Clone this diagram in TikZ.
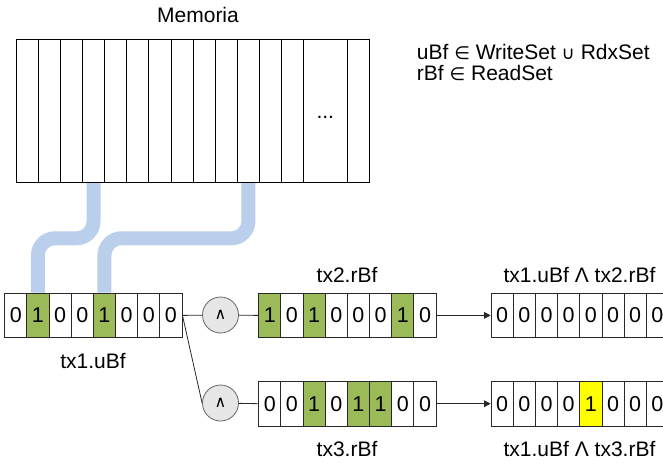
\documentclass[tikz,border=0pt]{standalone}
\usepackage{fontspec}
\setmainfont{Liberation Sans}
\newfontfamily\symfont{DejaVu Sans}
\usetikzlibrary{arrows.meta}
\definecolor{cellgreen}{RGB}{155,187,89}
\definecolor{cellyellow}{RGB}{255,255,0}
\definecolor{linkblue}{RGB}{185,207,236}
\definecolor{opfill}{RGB}{230,230,230}
\definecolor{opedge}{RGB}{102,102,102}
\definecolor{edge}{RGB}{40,40,40}
\pgfdeclarelayer{bg}
\pgfsetlayers{bg,main}

% one row of eight bit cells: name, left x, top y, list of value/style
\newcommand\bitrow[4]{%
  \foreach \v/\s [count=\i from 0] in {#4}
    \node[\s] (#1-\i) at ({#2+22.17*\i},#3) {\v};%
}
\newcommand\setsym[1]{{\symfont\fontsize{18}{20}\selectfont #1}}

\begin{document}
\begin{tikzpicture}[x=1pt,y=-1pt,
  txt/.style={font=\fontsize{21}{25}\selectfont, inner sep=0pt},
  bit/.style={draw=edge, line width=0.8pt, minimum width=22.17pt,
    minimum height=44.6pt, inner sep=0pt, anchor=north west,
    font=\fontsize{21.5}{25}\selectfont},
  one/.style={bit, fill=cellgreen},
  hit/.style={bit, fill=cellyellow},
  memcell/.style={draw=black, line width=0.8pt, minimum height=143.3pt,
    inner sep=0pt, anchor=north west, minimum width=#1},
  memcell/.default=22.12pt,
  op/.style={circle, draw=opedge, fill=opfill, line width=0.8pt,
    minimum size=36pt, inner sep=0pt,
    font=\symfont\fontsize{16}{18}\selectfont},
  wire/.style={draw=edge, line width=0.8pt},
  arrowwire/.style={wire, -{Triangle[length=6.5pt,width=6.5pt]}},
  link/.style={draw=linkblue, line width=14pt, rounded corners=17pt}
]
\clip (0,0) rectangle (663,465);

% memory block
\node[txt, anchor=base] (memtitle) at (198,22.3) {Memoria};
\foreach \i in {0,...,12}
  \node[memcell] (mem-\i) at ({15.7+22.12*\i},38.7) {};
\node[memcell=44pt] (mem-13) at (303.3,38.7) {};
\node[memcell=21.7pt] (mem-14) at (347.3,38.7) {};
\node[txt, anchor=base] (dots) at (325.3,119) {...};

% set membership notes
\node[txt, anchor=base west] (note1) at (416.7,60)
  {uBf \setsym{∈} WriteSet \setsym{∪} RdxSet};
\node[txt, anchor=base west] (note2) at (416.7,80.5)
  {rBf \setsym{∈} ReadSet};

% bit vectors
\bitrow{t1}{4.3}{292.7}{0/bit,1/one,0/bit,0/bit,1/one,0/bit,0/bit,0/bit}
\bitrow{t2}{258.3}{292.7}{1/one,0/bit,1/one,0/bit,0/bit,0/bit,1/one,0/bit}
\bitrow{t3}{258.3}{381}{0/bit,0/bit,1/one,0/bit,1/one,1/one,0/bit,0/bit}
\bitrow{r1}{490.7}{292.7}{0/bit,0/bit,0/bit,0/bit,0/bit,0/bit,0/bit,0/bit}
\bitrow{r2}{490.7}{381}{0/bit,0/bit,0/bit,0/bit,1/hit,0/bit,0/bit,0/bit}

% labels
\node[txt, anchor=base] (l1) at (93,368.5) {tx1.uBf};
\node[txt, anchor=base] (l2) at (347,282) {tx2.rBf};
\node[txt, anchor=base] (l3) at (347,456.7) {tx3.rBf};
\node[txt, anchor=base] (l4) at (579.5,282) {tx1.uBf Λ tx2.rBf};
\node[txt, anchor=base] (l5) at (579.5,456.7) {tx1.uBf Λ tx3.rBf};

% AND operators
\node[op] (op1) at (220.5,315) {∧};
\node[op] (op2) at (220.5,403) {∧};

\draw[wire] (t1-7.east) -- (op1);
\draw[wire] (op1) -- (t2-0.west);
\draw[wire] (t1-7.east) -- (op2.west);
\draw[wire] (op2) -- (t3-0.west);
\draw[arrowwire] (t2-7.east) -- (r1-0.west);
\draw[arrowwire] (t3-7.east) -- (r2-0.west);

% memory-to-filter links
\begin{pgfonlayer}{bg}
  \draw[link] (mem-3.south) -- ++(0,55.5) -| (t1-1.north);
  \draw[link] (mem-10.south) -- ++(0,55.5) -| (t1-4.north);
\end{pgfonlayer}
\end{tikzpicture}
\end{document}
